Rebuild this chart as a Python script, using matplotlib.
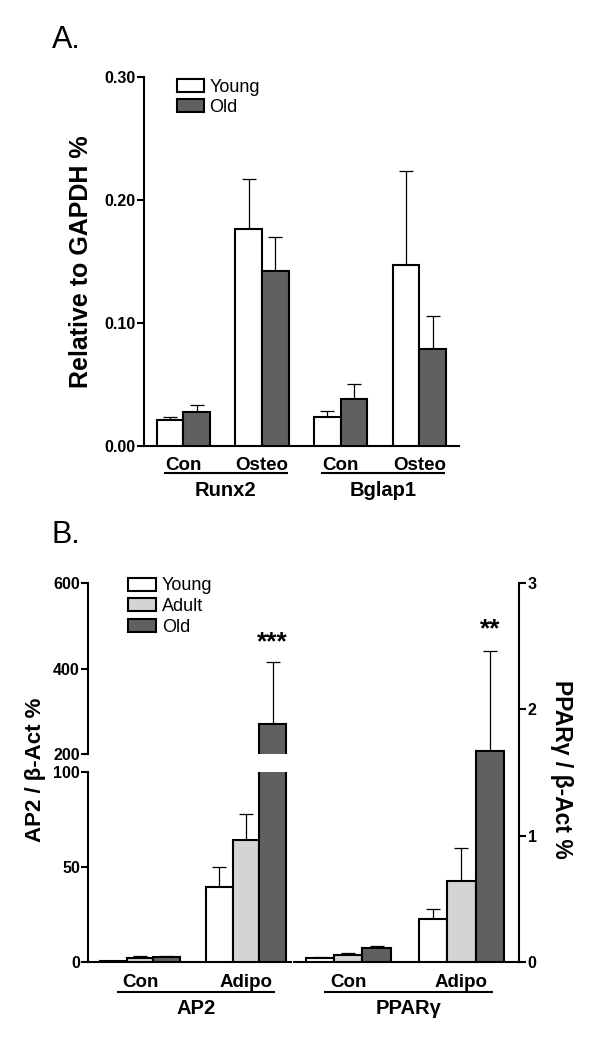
import matplotlib
matplotlib.use("Agg")
import matplotlib.pyplot as plt
import matplotlib.transforms as mtransforms
import numpy as np

plt.rcParams['font.family'] = ['Liberation Sans', 'DejaVu Sans']

# ---------------- Data ----------------
# Panel A
a_genes = ["Runx2", "Bglap1"]
a_conditions = ["Con", "Osteo", "Con", "Osteo"]
a_young = [0.0210, 0.1764, 0.0232, 0.1469]
a_young_err = [0.0022, 0.0400, 0.0051, 0.0760]
a_old = [0.0273, 0.1422, 0.0376, 0.0788]
a_old_err = [0.0059, 0.0278, 0.0124, 0.0268]
a_yticks = [0.00, 0.10, 0.20, 0.30]
a_yticklabels = ["0.00", "0.10", "0.20", "0.30"]

# Panel B
b_conditions = ["Con", "Adipo"]
ap2_young = [0.7, 39.7]
ap2_young_err = [0.2, 10.1]
ap2_adult = [2.4, 64.3]
ap2_adult_err = [0.7, 13.5]
ap2_old = [2.6, 271.0]
ap2_old_err = [0.5, 144.0]
ap2_sig = ["", "***"]

ppar_young = [0.031, 0.344]
ppar_young_err = [0.011, 0.079]
ppar_adult = [0.060, 0.646]
ppar_adult_err = [0.011, 0.254]
ppar_old = [0.113, 1.67]
ppar_old_err = [0.018, 0.79]
ppar_sig = ["", "**"]

ap2_upper_ticks = [200, 400, 600]
ap2_lower_ticks = [0, 50, 100]
ppar_ticks = [0, 1, 2, 3]

# ---------------- Styles ----------------
C_YOUNG = "#ffffff"
C_ADULT = "#d4d4d4"
C_OLD = "#606060"
EDGE_LW = 1.5
SPINE_LW = 1.5
TICK_FS = 11.5
COND_FS = 13.5
GENE_FS = 14.5
W, H = 600, 1039

fig = plt.figure(figsize=(6.0, 10.39), dpi=100)


def fx(px):
    return px / W


def fy(py):
    return 1 - py / H


def ax_rect(x0, x1, ytop, ybot):
    return [fx(x0), fy(ybot), fx(x1) - fx(x0), fy(ytop) - fy(ybot)]


def style_ax(ax, left=True, bottom=True, right=False):
    for s in ['top', 'right', 'left', 'bottom']:
        ax.spines[s].set_visible(False)
    if left:
        ax.spines['left'].set_visible(True)
        ax.spines['left'].set_linewidth(SPINE_LW)
    if right:
        ax.spines['right'].set_visible(True)
        ax.spines['right'].set_linewidth(SPINE_LW)
    if bottom:
        ax.spines['bottom'].set_visible(True)
        ax.spines['bottom'].set_linewidth(SPINE_LW)
    ax.tick_params(axis='y', direction='out', length=5, width=SPINE_LW,
                   labelsize=TICK_FS, pad=1)
    ax.tick_params(axis='x', length=0, labelbottom=False)
    for lab in ax.get_yticklabels():
        lab.set_fontweight('bold')


def draw_bars(ax, x, vals, errs, color, width):
    ax.errorbar(x, vals, yerr=[np.zeros(len(vals)), errs], fmt='none',
                ecolor='black', elinewidth=0.9, capsize=5, capthick=0.9,
                zorder=2)
    ax.bar(x, vals, width=width, color=color, edgecolor='black',
           linewidth=EDGE_LW, zorder=3)


# ---------------- Panel A ----------------
axA = fig.add_axes(ax_rect(143.7, 459.3, 76.7, 445.5))
xa = np.arange(len(a_conditions))
wa = 0.337
draw_bars(axA, xa - wa / 2, a_young, a_young_err, C_YOUNG, wa)
draw_bars(axA, xa + wa / 2, a_old, a_old_err, C_OLD, wa)
axA.set_xlim(-0.503, 3.507)
axA.set_ylim(0, 0.30)
axA.set_yticks(a_yticks)
axA.set_yticklabels(a_yticklabels)
style_ax(axA)

transA = mtransforms.blended_transform_factory(axA.transData, fig.transFigure)
for i, c in enumerate(a_conditions):
    axA.text(xa[i], fy(470), c, transform=transA, ha='center',
             va='baseline', fontsize=COND_FS, fontweight='bold')
for g, gname in enumerate(a_genes):
    x0, x1 = xa[2 * g] - 0.245, xa[2 * g + 1] + 0.327
    axA.plot([x0, x1], [fy(473.5), fy(473.5)], transform=transA,
             color='black', lw=1.5, clip_on=False, solid_capstyle='butt')
    axA.text((x0 + x1) / 2, fy(496), gname, transform=transA, ha='center',
             va='baseline', fontsize=GENE_FS, fontweight='bold')

axA.legend(handles=[
    plt.Rectangle((0, 0), 1, 1, facecolor=C_YOUNG, edgecolor='black', lw=EDGE_LW),
    plt.Rectangle((0, 0), 1, 1, facecolor=C_OLD, edgecolor='black', lw=EDGE_LW)],
    labels=["Young", "Old"], loc='upper left',
    bbox_to_anchor=(fx(176.7), fy(78.5)), bbox_transform=fig.transFigure,
    frameon=False, fontsize=13, handlelength=1.5, handleheight=0.7,
    handletextpad=0.3, labelspacing=0.2, borderpad=0, borderaxespad=0)

fig.text(fx(81), fy(261.7), "Relative to GAPDH %", rotation=90,
         ha='center', va='center', fontsize=18, fontweight='bold')
fig.text(fx(52), fy(48.3), "A.", fontsize=22, va='baseline', ha='left')

# ---------------- Panel B ----------------
xb = np.arange(len(b_conditions))
wl = 0.251
axU = fig.add_axes(ax_rect(88.3, 290.7, 583.3, 754.0))
axL = fig.add_axes(ax_rect(88.3, 290.7, 771.7, 962.3))
for ax in (axU, axL):
    draw_bars(ax, xb - wl, ap2_young, ap2_young_err, C_YOUNG, wl)
    draw_bars(ax, xb, ap2_adult, ap2_adult_err, C_ADULT, wl)
    draw_bars(ax, xb + wl, ap2_old, ap2_old_err, C_OLD, wl)
    ax.set_xlim(-0.488, 1.422)
axU.set_ylim(200, 600)
axU.set_yticks(ap2_upper_ticks)
axL.set_ylim(0, 100)
axL.set_yticks(ap2_lower_ticks)
style_ax(axU, bottom=False)
style_ax(axL)
for i, s in enumerate(ap2_sig):
    if s:
        axU.annotate(s, xy=(xb[i] + wl, ap2_old[i] + ap2_old_err[i]),
                     xytext=(0, 6), textcoords='offset points',
                     ha='center', va='bottom', fontsize=19, fontweight='bold',
                     annotation_clip=False)

axR = fig.add_axes(ax_rect(294.3, 519.3, 582.7, 962.3))
wr = 0.251
draw_bars(axR, xb - wr, ppar_young, ppar_young_err, C_YOUNG, wr)
draw_bars(axR, xb, ppar_adult, ppar_adult_err, C_ADULT, wr)
draw_bars(axR, xb + wr, ppar_old, ppar_old_err, C_OLD, wr)
axR.set_xlim(-0.477, 1.511)
axR.set_ylim(0, 3)
axR.set_yticks(ppar_ticks)
axR.yaxis.tick_right()
style_ax(axR, left=False, right=True)
for i, s in enumerate(ppar_sig):
    if s:
        axR.annotate(s, xy=(xb[i] + wr, ppar_old[i] + ppar_old_err[i]),
                     xytext=(0, 7), textcoords='offset points',
                     ha='center', va='bottom', fontsize=19, fontweight='bold',
                     annotation_clip=False)

for ax, gname in ((axL, "AP2"), (axR, "PPAR\u03b3")):
    tr = mtransforms.blended_transform_factory(ax.transData, fig.transFigure)
    for i, c in enumerate(b_conditions):
        ax.text(xb[i], fy(986.7), c, transform=tr, ha='center',
                va='baseline', fontsize=COND_FS, fontweight='bold')
    x0, x1 = xb[0] - 0.215, xb[1] + 0.275
    ax.plot([x0, x1], [fy(992), fy(992)], transform=tr, color='black',
            lw=1.5, clip_on=False, solid_capstyle='butt')
    ax.text((x0 + x1) / 2, fy(1014), gname, transform=tr, ha='center',
            va='baseline', fontsize=GENE_FS, fontweight='bold')

axU.legend(handles=[
    plt.Rectangle((0, 0), 1, 1, facecolor=C_YOUNG, edgecolor='black', lw=EDGE_LW),
    plt.Rectangle((0, 0), 1, 1, facecolor=C_ADULT, edgecolor='black', lw=EDGE_LW),
    plt.Rectangle((0, 0), 1, 1, facecolor=C_OLD, edgecolor='black', lw=EDGE_LW)],
    labels=["Young", "Adult", "Old"], loc='upper left',
    bbox_to_anchor=(fx(128.3), fy(577.5)), bbox_transform=fig.transFigure,
    frameon=False, fontsize=13, handlelength=1.55, handleheight=0.72,
    handletextpad=0.3, labelspacing=0.2, borderpad=0, borderaxespad=0)

fig.text(fx(35.5), fy(770), "AP2 / \u03b2-Act %", rotation=90,
         ha='center', va='center', fontsize=16, fontweight='bold')
fig.text(fx(561.7), fy(769), "PPAR\u03b3 / \u03b2-Act %", rotation=270,
         ha='center', va='center', fontsize=16.5, fontweight='bold')
fig.text(fx(51.7), fy(543.3), "B.", fontsize=22, va='baseline', ha='left')

fig.savefig("out.png", dpi=100)
